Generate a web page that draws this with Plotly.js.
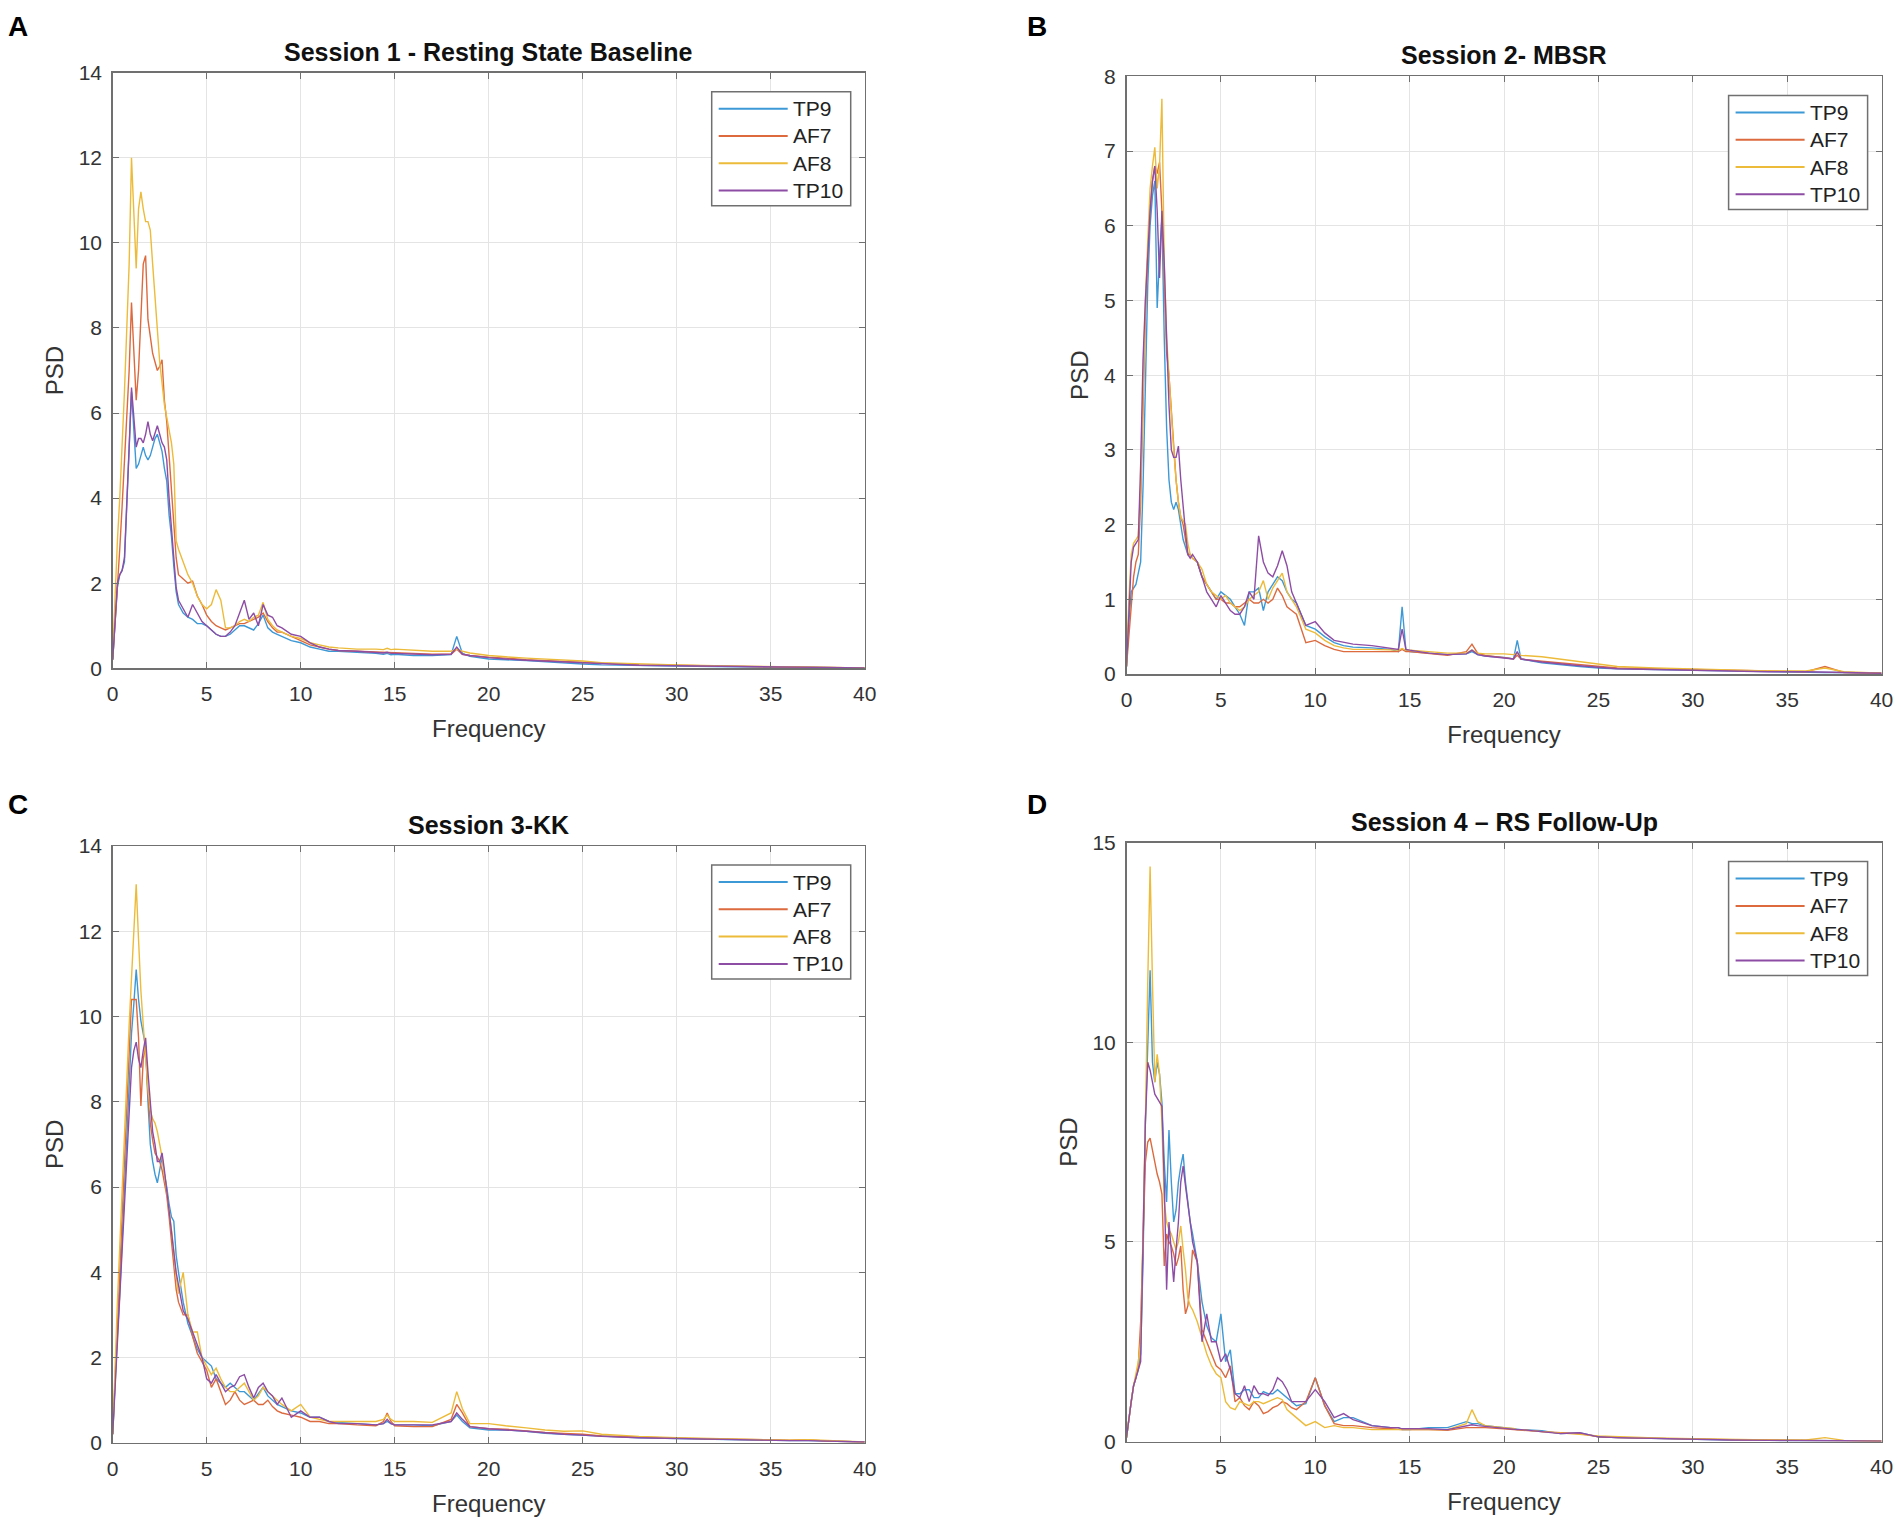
<!DOCTYPE html>
<html>
<head>
<meta charset="utf-8">
<script src="https://cdn.plot.ly/plotly-3.0.1.min.js"></script>
<style>html,body{margin:0;padding:0;background:#fff;}#chart{width:1901px;height:1523px;}</style>
</head>
<body>
<div id="chart"></div>
<script>
// ---------- data ----------
const channels = ['TP9', 'AF7', 'AF8', 'TP10'];
const panelTitles = ['Session 1 - Resting State Baseline', 'Session 2- MBSR', 'Session 3-KK', 'Session 4 \u2013 RS Follow-Up'];
const panelLetters = ['A', 'B', 'C', 'D'];
const xTicks = [0, 5, 10, 15, 20, 25, 30, 35, 40];
const yTicksA = [0, 2, 4, 6, 8, 10, 12, 14];
const yTicksB = [0, 1, 2, 3, 4, 5, 6, 7, 8];
const yTicksC = [0, 2, 4, 6, 8, 10, 12, 14];
const yTicksD = [0, 5, 10, 15];

const freq = [0,0.125,0.25,0.375,0.5,0.625,0.75,0.875,1,1.125,1.25,1.375,1.5,1.625,1.75,1.875,2,2.125,2.25,2.375,2.5,2.625,2.75,2.875,3,3.125,3.25,3.375,3.5,
  3.75,4,4.25,4.5,4.75,5,5.25,5.5,5.75,6,6.25,6.5,6.75,7,7.25,7.5,7.75,8,8.25,8.5,8.75,9,
  9.5,10,10.5,11,11.5,12,
  13,14,14.4,14.6,14.8,15,16,17,18,18.3,18.6,19,20,20.5,20.7,20.9,22,23,24,25,
  26,28,30,32,34,36,37,38,40];

// Session 1
const s1_TP9 = [0.2,1.2,1.9,2.2,2.3,2.5,3.8,5.0,6.5,5.6,4.7,4.8,5.0,5.2,5.0,4.9,5.0,5.2,5.4,5.5,5.3,5.1,4.7,4.4,3.6,3.1,2.4,1.8,1.5,
  1.3,1.2,1.15,1.05,1.05,1.0,0.9,0.8,0.75,0.75,0.8,0.9,1.0,1.0,0.95,0.9,1.05,1.25,0.95,0.85,0.8,0.75,
  0.65,0.6,0.5,0.45,0.4,0.4,
  0.38,0.35,0.33,0.35,0.32,0.33,0.3,0.3,0.32,0.75,0.35,0.28,0.22,0.2,0.2,0.2,0.18,0.15,0.12,0.1,
  0.08,0.06,0.05,0.04,0.03,0.03,0.02,0.02,0.01];
const s1_AF7 = [0.2,1.0,1.8,2.8,3.8,4.8,5.8,7.0,8.6,7.5,6.3,7.0,8.2,9.5,9.7,8.2,7.8,7.4,7.2,7.0,7.1,7.25,6.3,5.8,5.0,4.2,3.2,2.6,2.2,
  2.1,2.0,2.05,1.7,1.5,1.25,1.1,1.0,0.95,0.9,0.95,1.0,1.05,1.05,1.1,1.15,1.2,1.3,1.1,0.95,0.85,0.85,
  0.75,0.65,0.55,0.5,0.45,0.42,
  0.4,0.38,0.37,0.38,0.36,0.36,0.34,0.33,0.33,0.45,0.33,0.3,0.26,0.25,0.25,0.24,0.2,0.18,0.16,0.14,
  0.11,0.08,0.07,0.05,0.04,0.03,0.03,0.02,0.01];
const s1_AF8 = [0.3,1.8,3.0,4.0,5.2,6.5,8.0,9.5,12.0,10.8,9.4,10.8,11.2,10.8,10.5,10.5,10.3,9.5,8.7,7.9,7.2,6.7,6.2,5.9,5.6,5.3,4.8,3.0,2.8,
  2.5,2.2,2.0,1.7,1.5,1.4,1.5,1.85,1.6,0.95,0.95,1.0,1.1,1.15,1.1,1.2,1.25,1.55,1.15,1.0,0.9,0.85,
  0.75,0.7,0.6,0.55,0.5,0.48,
  0.45,0.45,0.44,0.47,0.44,0.45,0.42,0.4,0.4,0.45,0.4,0.36,0.3,0.28,0.28,0.27,0.24,0.22,0.2,0.17,
  0.13,0.1,0.08,0.06,0.05,0.04,0.04,0.03,0.01];
const s1_TP10 = [0.2,1.2,2.0,2.2,2.3,2.6,3.8,5.2,6.6,5.8,5.2,5.4,5.4,5.3,5.5,5.8,5.5,5.35,5.5,5.7,5.5,5.3,5.2,4.9,4.0,3.3,2.5,1.9,1.6,
  1.4,1.2,1.5,1.3,1.1,1.0,0.9,0.8,0.75,0.75,0.85,1.0,1.3,1.6,1.15,1.3,1.0,1.5,1.25,1.2,1.0,0.95,
  0.8,0.75,0.6,0.5,0.45,0.42,
  0.4,0.37,0.36,0.38,0.35,0.35,0.33,0.32,0.33,0.5,0.33,0.3,0.25,0.23,0.23,0.22,0.19,0.17,0.14,0.12,
  0.1,0.07,0.06,0.05,0.04,0.03,0.03,0.02,0.01];

// Session 2
const s2_TP9 = [0.1,0.7,1.1,1.15,1.2,1.35,1.5,2.5,4.0,5.2,6.0,6.4,6.6,4.9,5.6,6.1,4.5,3.3,2.6,2.3,2.2,2.3,2.2,2.0,1.8,1.7,1.6,1.6,1.55,
  1.5,1.3,1.2,1.1,1.0,1.1,1.05,1.0,0.9,0.8,0.65,1.1,1.1,1.15,0.85,1.1,1.2,1.3,1.25,1.1,1.0,0.95,
  0.65,0.6,0.5,0.42,0.38,0.36,
  0.35,0.33,0.3,0.9,0.32,0.3,0.28,0.26,0.27,0.3,0.26,0.24,0.22,0.2,0.45,0.2,0.15,0.12,0.1,0.08,
  0.07,0.06,0.05,0.04,0.03,0.02,0.02,0.02,0.01];
const s2_AF7 = [0.1,0.5,1.0,1.3,1.5,1.6,2.3,3.6,4.8,5.6,6.2,6.6,6.8,6.7,6.85,6.2,5.2,4.3,4.0,3.5,3.0,2.6,2.3,2.1,2.0,1.8,1.6,1.6,1.55,
  1.5,1.3,1.2,1.1,1.0,1.0,0.95,0.95,0.9,0.9,0.95,1.0,0.95,0.95,1.0,0.95,1.0,1.15,1.05,0.9,0.85,0.8,
  0.42,0.45,0.38,0.33,0.3,0.3,
  0.3,0.3,0.3,0.33,0.3,0.3,0.27,0.25,0.3,0.4,0.28,0.25,0.22,0.2,0.25,0.2,0.17,0.15,0.12,0.1,
  0.08,0.07,0.06,0.05,0.04,0.03,0.1,0.02,0.01];
const s2_AF8 = [0.1,1.0,1.6,1.75,1.8,1.85,2.5,3.8,5.0,5.8,6.5,6.8,7.05,6.5,6.8,7.7,5.5,4.5,4.0,3.4,3.0,2.6,2.3,2.1,2.05,2.0,1.75,1.6,1.55,
  1.5,1.4,1.2,1.1,1.05,1.0,1.05,0.95,0.9,0.85,0.9,1.0,1.05,1.1,1.25,1.0,1.15,1.25,1.35,1.1,1.0,0.9,
  0.6,0.55,0.45,0.38,0.35,0.33,
  0.33,0.32,0.32,0.34,0.32,0.32,0.3,0.28,0.28,0.32,0.28,0.27,0.27,0.26,0.28,0.25,0.23,0.2,0.17,0.13,
  0.1,0.08,0.07,0.05,0.04,0.04,0.08,0.03,0.01];
const s2_TP10 = [0.1,0.9,1.5,1.7,1.75,1.8,2.8,4.2,5.0,5.6,6.2,6.6,6.8,6.2,5.3,6.2,5.5,4.5,3.6,3.0,2.9,2.9,3.05,2.6,2.2,1.9,1.6,1.55,1.6,
  1.5,1.3,1.1,1.0,0.9,1.05,0.95,0.85,0.8,0.8,0.9,1.1,1.0,1.85,1.5,1.35,1.3,1.45,1.65,1.45,1.1,0.95,
  0.65,0.7,0.55,0.45,0.42,0.4,
  0.38,0.35,0.33,0.6,0.33,0.32,0.28,0.26,0.27,0.32,0.26,0.24,0.22,0.2,0.3,0.2,0.16,0.13,0.11,0.09,
  0.07,0.06,0.05,0.04,0.03,0.03,0.03,0.02,0.01];

// Session 3
const s3_TP9 = [0.2,1.5,2.5,3.5,4.8,6.0,7.3,8.5,9.6,10.3,11.1,10.4,9.9,9.6,9.3,8.0,7.0,6.6,6.3,6.1,6.4,6.7,6.3,6.0,5.6,5.3,5.2,4.4,4.0,
  3.3,2.8,2.5,2.2,2.0,1.9,1.8,1.5,1.4,1.3,1.4,1.3,1.2,1.2,1.1,1.0,1.15,1.3,1.1,1.0,0.9,0.85,
  0.75,0.7,0.6,0.6,0.5,0.48,
  0.45,0.42,0.45,0.5,0.45,0.42,0.42,0.4,0.5,0.65,0.5,0.35,0.3,0.3,0.3,0.3,0.27,0.22,0.2,0.18,
  0.15,0.12,0.1,0.08,0.06,0.05,0.05,0.04,0.02];
const s3_AF7 = [0.2,1.6,2.8,4.0,5.3,6.6,8.0,9.4,10.4,10.4,10.4,9.5,7.9,9.0,9.3,8.2,7.5,7.1,6.8,6.7,6.6,6.4,6.1,5.8,5.3,4.7,4.2,3.6,3.3,
  3.0,3.0,2.5,2.1,1.9,1.7,1.3,1.5,1.2,0.9,1.0,1.2,1.0,0.9,0.95,1.0,0.9,0.9,1.0,0.85,0.75,0.7,
  0.65,0.6,0.5,0.5,0.45,0.45,
  0.42,0.4,0.5,0.7,0.5,0.4,0.38,0.38,0.55,0.9,0.7,0.38,0.33,0.32,0.33,0.32,0.28,0.24,0.22,0.2,
  0.16,0.13,0.11,0.09,0.07,0.06,0.07,0.04,0.02];
const s3_AF8 = [0.2,2.0,3.3,4.6,5.8,7.2,8.5,9.8,11.0,12.0,13.1,11.8,10.6,9.8,9.0,8.3,7.8,7.6,7.5,7.3,7.0,6.7,6.3,5.9,5.5,5.0,4.5,3.9,3.5,
  4.0,3.0,2.6,2.6,2.0,1.8,1.6,1.75,1.5,1.3,1.2,1.2,1.3,1.4,1.2,1.0,1.1,1.3,1.2,1.1,1.0,0.9,
  0.75,0.9,0.6,0.55,0.5,0.5,
  0.5,0.5,0.55,0.65,0.55,0.5,0.5,0.48,0.7,1.2,0.8,0.45,0.45,0.42,0.4,0.4,0.35,0.3,0.27,0.28,
  0.2,0.15,0.12,0.1,0.08,0.06,0.07,0.05,0.02];
const s3_TP10 = [0.2,1.3,2.3,3.3,4.5,5.6,6.8,8.0,8.8,9.2,9.4,9.0,8.8,9.2,9.5,8.7,8.0,7.3,7.0,6.6,6.6,6.8,6.4,5.9,5.5,5.0,4.5,4.0,3.7,
  3.1,2.9,2.6,2.3,2.0,1.5,1.4,1.6,1.4,1.2,1.3,1.35,1.55,1.6,1.3,1.05,1.3,1.4,1.2,1.1,0.9,1.05,
  0.6,0.75,0.6,0.6,0.5,0.45,
  0.45,0.42,0.45,0.55,0.45,0.42,0.42,0.42,0.5,0.7,0.55,0.38,0.33,0.32,0.3,0.3,0.27,0.23,0.2,0.18,
  0.15,0.12,0.1,0.08,0.06,0.05,0.05,0.04,0.02];

// Session 4
const s4_TP9 = [0.1,0.6,1.0,1.4,1.6,1.8,2.2,4.5,8.0,10.0,11.8,9.5,9.0,9.5,9.2,8.5,7.0,6.0,7.8,6.5,5.5,5.8,6.5,6.9,7.2,6.5,6.0,5.5,5.2,
  4.5,3.5,2.9,2.6,2.5,3.2,2.0,2.3,1.2,1.2,1.3,1.3,1.1,1.1,1.25,1.2,1.2,1.3,1.2,1.1,1.0,0.9,
  0.95,1.6,0.9,0.5,0.6,0.6,
  0.4,0.35,0.35,0.3,0.3,0.3,0.35,0.35,0.5,0.45,0.45,0.4,0.35,0.32,0.3,0.3,0.27,0.2,0.22,0.12,
  0.1,0.08,0.05,0.04,0.03,0.03,0.03,0.02,0.01];
const s4_AF7 = [0.1,0.6,1.0,1.4,1.6,1.9,3.0,5.0,7.0,7.5,7.6,7.3,7.0,6.7,6.5,6.2,4.4,5.2,5.0,4.9,4.7,4.4,4.6,4.9,3.8,3.2,3.4,4.0,4.8,
  4.5,2.8,2.5,2.2,1.9,1.8,1.6,1.9,1.0,1.1,0.9,0.8,1.0,0.9,0.7,0.75,0.85,0.9,1.0,0.95,0.85,0.8,
  1.0,1.6,0.9,0.45,0.4,0.4,
  0.35,0.32,0.3,0.3,0.3,0.3,0.3,0.28,0.35,0.35,0.35,0.35,0.32,0.3,0.3,0.3,0.25,0.22,0.2,0.12,
  0.1,0.08,0.06,0.05,0.04,0.03,0.03,0.02,0.01];
const s4_AF8 = [0.1,0.6,1.0,1.4,1.7,2.0,2.5,5.0,8.0,11.5,14.4,11.5,9.0,9.7,9.2,8.0,6.0,5.5,5.3,5.2,5.0,4.8,5.0,5.4,4.8,4.3,3.6,3.4,3.3,
  3.0,2.6,2.2,1.9,1.7,1.6,1.0,0.85,0.8,1.0,0.95,0.9,1.0,1.0,0.95,1.0,1.05,1.1,1.05,0.8,0.7,0.6,
  0.4,0.5,0.35,0.4,0.35,0.35,
  0.3,0.3,0.3,0.3,0.3,0.3,0.3,0.3,0.45,0.8,0.5,0.4,0.35,0.33,0.3,0.3,0.25,0.22,0.18,0.14,
  0.12,0.09,0.07,0.05,0.04,0.04,0.1,0.03,0.01];
const s4_TP10 = [0.1,0.6,1.0,1.4,1.6,1.8,2.0,5.0,8.0,9.5,9.3,9.0,8.7,8.6,8.5,8.4,6.5,3.8,5.5,4.8,4.0,4.8,5.5,6.5,6.9,6.4,6.0,5.5,5.0,
  4.5,2.5,3.2,2.5,2.5,2.0,2.2,1.8,1.2,1.1,1.4,1.0,1.4,1.2,1.2,1.15,1.3,1.6,1.5,1.3,1.0,1.0,
  1.0,1.3,1.0,0.6,0.7,0.55,
  0.4,0.35,0.35,0.32,0.32,0.32,0.32,0.3,0.4,0.42,0.4,0.38,0.32,0.3,0.3,0.3,0.25,0.2,0.22,0.12,
  0.1,0.08,0.05,0.04,0.03,0.03,0.03,0.02,0.01];

const sessionData = [
  [s1_TP9, s1_AF7, s1_AF8, s1_TP10],
  [s2_TP9, s2_AF7, s2_AF8, s2_TP10],
  [s3_TP9, s3_AF7, s3_AF8, s3_TP10],
  [s4_TP9, s4_AF7, s4_AF8, s4_TP10]
];
const yTickSets = [yTicksA, yTicksB, yTicksC, yTicksD];

// ---------- styling / layout ----------
const W = 1901, H = 1523;
const colors = ['#3D98D6', '#DC6A3E', '#EDBB3A', '#8E4DA5'];
const FONT = 'Liberation Sans, Arial, Helvetica, sans-serif';
// plot boxes in pixels: [left, right, top, bottom]
const boxes = [
  [112.7, 864.7, 72.7, 668.3],
  [1126.5, 1881.6, 76.4, 674.0],
  [112.7, 864.7, 846.0, 1442.8],
  [1126.5, 1881.6, 842.6, 1441.6]
];
// panel letter anchor positions in pixels
const letterPos = [[18, 26.7], [1037, 26.7], [18, 804], [1037, 804]];

const traces = [];
const layout = {
  width: W, height: H,
  margin: {l: 0, r: 0, t: 0, b: 0},
  paper_bgcolor: '#ffffff', plot_bgcolor: '#ffffff',
  showlegend: false,
  font: {family: FONT, color: '#333333'},
  annotations: [], shapes: []
};

const px = v => v / W;
const py = v => 1 - v / H;

boxes.forEach((b, p) => {
  const n = p === 0 ? '' : String(p + 1);
  const yt = yTickSets[p];
  layout['xaxis' + n] = {
    domain: [px(b[0]), px(b[1])],
    anchor: 'y' + n,
    range: [0, 40],
    tickmode: 'array', tickvals: xTicks, ticktext: xTicks.map(String),
    showgrid: true, gridcolor: '#e4e4e4', gridwidth: 1,
    zeroline: false,
    showline: true, linecolor: '#707070', linewidth: 1.5, mirror: 'ticks',
    ticks: 'inside', ticklen: 6, tickcolor: '#707070', tickwidth: 1,
    ticklabelstandoff: 6,
    tickfont: {family: FONT, size: 21, color: '#333333'},
    title: {text: 'Frequency', font: {family: FONT, size: 24, color: '#333333'}, standoff: 16}
  };
  layout['yaxis' + n] = {
    domain: [py(b[3]), py(b[2])],
    anchor: 'x' + n,
    range: [0, yt[yt.length - 1]],
    tickmode: 'array', tickvals: yt, ticktext: yt.map(String),
    showgrid: true, gridcolor: '#e4e4e4', gridwidth: 1,
    zeroline: false,
    showline: true, linecolor: '#707070', linewidth: 1.5, mirror: 'ticks',
    ticks: 'inside', ticklen: 6, tickcolor: '#707070', tickwidth: 1,
    ticklabelstandoff: 5,
    tickfont: {family: FONT, size: 21, color: '#333333'},
    title: {text: 'PSD', font: {family: FONT, size: 24, color: '#333333'}, standoff: 8}
  };

  sessionData[p].forEach((ys, c) => {
    traces.push({
      type: 'scatter', mode: 'lines',
      x: freq, y: ys,
      name: channels[c],
      xaxis: 'x' + n, yaxis: 'y' + n,
      line: {color: colors[c], width: 1.4},
      hoverinfo: 'x+y+name'
    });
  });

  // panel title
  layout.annotations.push({
    xref: 'paper', yref: 'paper',
    x: px((b[0] + b[1]) / 2), y: py(b[2] - 21),
    xanchor: 'center', yanchor: 'middle',
    text: '<b>' + panelTitles[p] + '</b>', showarrow: false,
    font: {family: FONT, size: 25, color: '#111111'}
  });
  // panel letter
  layout.annotations.push({
    xref: 'paper', yref: 'paper',
    x: px(letterPos[p][0]), y: py(letterPos[p][1]),
    xanchor: 'center', yanchor: 'middle',
    text: '<b>' + panelLetters[p] + '</b>', showarrow: false,
    font: {family: FONT, size: 28, color: '#000000'}
  });

  // legend box (custom, to match MATLAB-style long line samples)
  const lw = 139, lh = 114;
  const lr = b[1] - 14, lt = b[2] + 19;
  const ll = lr - lw;
  layout.shapes.push({
    type: 'rect', xref: 'paper', yref: 'paper',
    x0: px(ll), x1: px(lr), y0: py(lt), y1: py(lt + lh),
    line: {color: '#707070', width: 1.5}, fillcolor: '#ffffff', layer: 'above'
  });
  channels.forEach((ch, c) => {
    const yy = lt + 17 + c * 27.3;
    layout.shapes.push({
      type: 'line', xref: 'paper', yref: 'paper',
      x0: px(ll + 7), x1: px(ll + 76), y0: py(yy), y1: py(yy),
      line: {color: colors[c], width: 2}, layer: 'above'
    });
    layout.annotations.push({
      xref: 'paper', yref: 'paper',
      x: px(ll + 79), y: py(yy),
      xanchor: 'left', yanchor: 'middle',
      text: ch, showarrow: false,
      font: {family: FONT, size: 21, color: '#222222'}
    });
  });
});

Plotly.newPlot('chart', traces, layout, {displayModeBar: false, staticPlot: true});
</script>
</body>
</html>
